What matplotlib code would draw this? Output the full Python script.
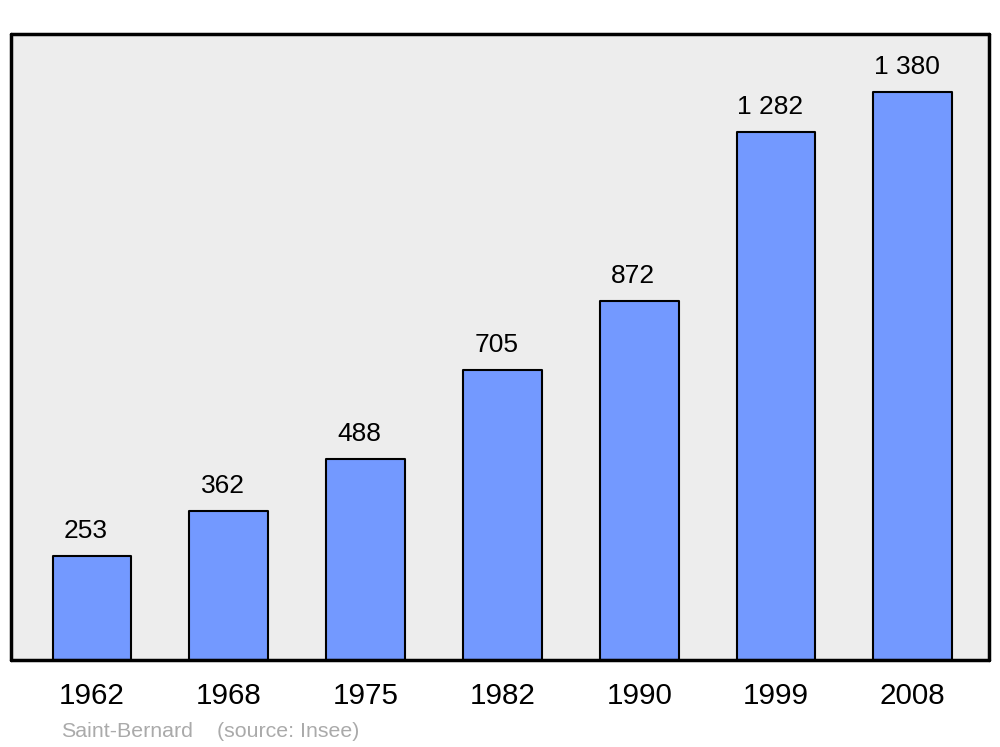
import numpy as np
import matplotlib
matplotlib.use("Agg")
import matplotlib.pyplot as plt

## population of Saint-Bernard by census year
years = ['1962', '1968', '1975', '1982', '1990', '1999', '2008']
population = [253, 362, 488, 705, 872, 1282, 1380]
commune = 'Saint-Bernard'
source = '(source: Insee)'

plt.rcParams['font.family'] = ['Liberation Sans', 'DejaVu Sans']

fig = plt.figure(figsize=(10, 7.47), dpi=100)
ax = fig.add_axes([0.011, 0.1165, 0.978, 0.838])
ax.set_facecolor('#ededed')

x = np.arange(len(years))
bars = ax.bar(x, population, width=0.577, color='#7399ff',
              edgecolor='black', linewidth=1.5, zorder=2)
for b in bars:
    b.set_joinstyle('round')

# value labels with a space as thousands separator
for xi, v in zip(x, population):
    lab = '{:,}'.format(v).replace(',', ' ')
    ax.annotate(lab, (xi, v), xytext=(-4.5, 13), textcoords='offset points',
                ha='center', va='baseline', fontsize=19)

ax.set_xlim(-0.592, 6.557)
ax.set_ylim(0, 1521)
ax.set_xticks(x)
ax.set_xticklabels(years, fontsize=21.3)
ax.tick_params(axis='x', length=0, pad=16)
ax.set_yticks([])

for s in ax.spines.values():
    s.set_linewidth(2.5)
    s.set_capstyle('round')
    s.set_joinstyle('round')

fig.text(0.061, 0.013, commune, fontsize=15.4, color='#aaaaaa', va='baseline')
fig.text(0.217, 0.013, source, fontsize=15.4, color='#aaaaaa', va='baseline')

plt.savefig('out.png', dpi=100)
plt.close()
